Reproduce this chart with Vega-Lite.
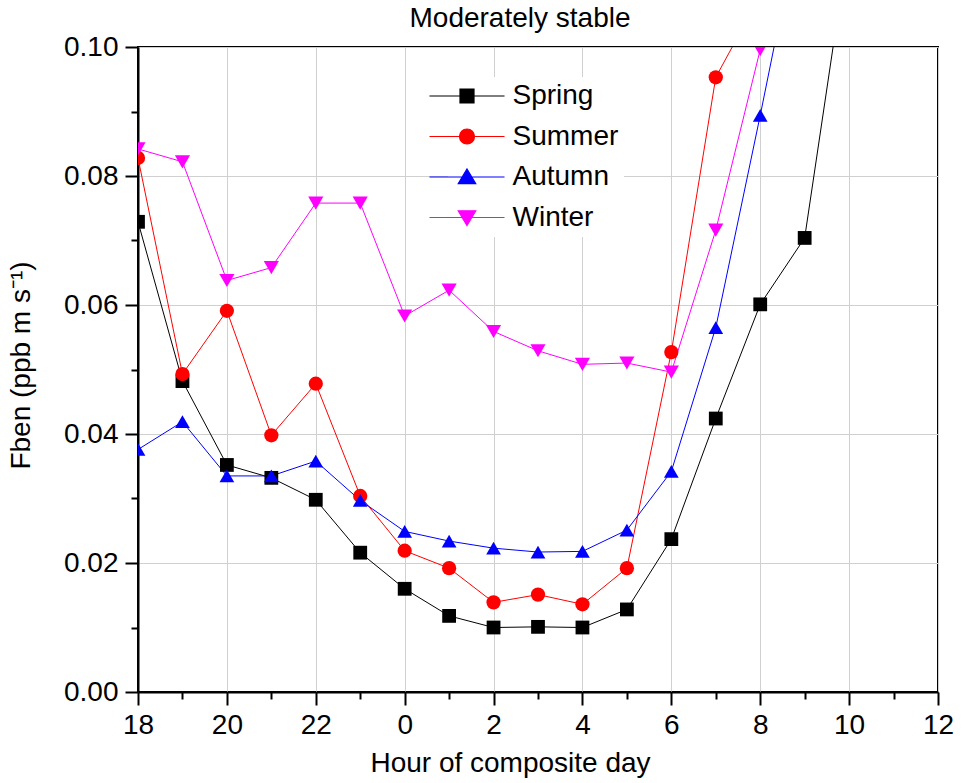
{
  "$schema": "https://vega.github.io/schema/vega-lite/v6.json",
  "width": 800,
  "height": 645,
  "autosize": {"type": "none"},
  "padding": {"left": 138, "top": 47, "right": 25, "bottom": 91},
  "title": {
    "text": "Moderately stable",
    "font": "Liberation Sans",
    "fontSize": 28,
    "fontWeight": "normal",
    "color": "black",
    "baseline": "alphabetic",
    "offset": 4,
    "dx": -18,
    "dy": 26
  },
  "data": {
    "values": [
      {"season": "Spring", "hour": 18, "F": 0.0729},
      {"season": "Spring", "hour": 19, "F": 0.0482},
      {"season": "Spring", "hour": 20, "F": 0.0352},
      {"season": "Spring", "hour": 21, "F": 0.0332},
      {"season": "Spring", "hour": 22, "F": 0.0298},
      {"season": "Spring", "hour": 23, "F": 0.0216},
      {"season": "Spring", "hour": 24, "F": 0.0160},
      {"season": "Spring", "hour": 25, "F": 0.0118},
      {"season": "Spring", "hour": 26, "F": 0.0100},
      {"season": "Spring", "hour": 27, "F": 0.0101},
      {"season": "Spring", "hour": 28, "F": 0.0100},
      {"season": "Spring", "hour": 29, "F": 0.0128},
      {"season": "Spring", "hour": 30, "F": 0.0237},
      {"season": "Spring", "hour": 31, "F": 0.0424},
      {"season": "Spring", "hour": 32, "F": 0.0601},
      {"season": "Spring", "hour": 33, "F": 0.0704},
      {"season": "Spring", "hour": 34, "F": 0.1167},
      {"season": "Summer", "hour": 18, "F": 0.0828},
      {"season": "Summer", "hour": 19, "F": 0.0493},
      {"season": "Summer", "hour": 20, "F": 0.0591},
      {"season": "Summer", "hour": 21, "F": 0.0398},
      {"season": "Summer", "hour": 22, "F": 0.0478},
      {"season": "Summer", "hour": 23, "F": 0.0304},
      {"season": "Summer", "hour": 24, "F": 0.0219},
      {"season": "Summer", "hour": 25, "F": 0.0192},
      {"season": "Summer", "hour": 26, "F": 0.0139},
      {"season": "Summer", "hour": 27, "F": 0.0151},
      {"season": "Summer", "hour": 28, "F": 0.0136},
      {"season": "Summer", "hour": 29, "F": 0.0192},
      {"season": "Summer", "hour": 30, "F": 0.0527},
      {"season": "Summer", "hour": 31, "F": 0.0953},
      {"season": "Summer", "hour": 32, "F": 0.1080},
      {"season": "Autumn", "hour": 18, "F": 0.0376},
      {"season": "Autumn", "hour": 19, "F": 0.0419},
      {"season": "Autumn", "hour": 20, "F": 0.0335},
      {"season": "Autumn", "hour": 21, "F": 0.0335},
      {"season": "Autumn", "hour": 22, "F": 0.0358},
      {"season": "Autumn", "hour": 23, "F": 0.0297},
      {"season": "Autumn", "hour": 24, "F": 0.0249},
      {"season": "Autumn", "hour": 25, "F": 0.0234},
      {"season": "Autumn", "hour": 26, "F": 0.0223},
      {"season": "Autumn", "hour": 27, "F": 0.0217},
      {"season": "Autumn", "hour": 28, "F": 0.0218},
      {"season": "Autumn", "hour": 29, "F": 0.0251},
      {"season": "Autumn", "hour": 30, "F": 0.0342},
      {"season": "Autumn", "hour": 31, "F": 0.0565},
      {"season": "Autumn", "hour": 32, "F": 0.0894},
      {"season": "Autumn", "hour": 33, "F": 0.1234},
      {"season": "Winter", "hour": 18, "F": 0.0842},
      {"season": "Winter", "hour": 19, "F": 0.0822},
      {"season": "Winter", "hour": 20, "F": 0.0638},
      {"season": "Winter", "hour": 21, "F": 0.0658},
      {"season": "Winter", "hour": 22, "F": 0.0758},
      {"season": "Winter", "hour": 23, "F": 0.0758},
      {"season": "Winter", "hour": 24, "F": 0.0583},
      {"season": "Winter", "hour": 25, "F": 0.0623},
      {"season": "Winter", "hour": 26, "F": 0.0559},
      {"season": "Winter", "hour": 27, "F": 0.0529},
      {"season": "Winter", "hour": 28, "F": 0.0508},
      {"season": "Winter", "hour": 29, "F": 0.0510},
      {"season": "Winter", "hour": 30, "F": 0.0496},
      {"season": "Winter", "hour": 31, "F": 0.0716},
      {"season": "Winter", "hour": 32, "F": 0.0996}
    ]
  },
  "encoding": {
    "x": {
      "field": "hour",
      "type": "quantitative",
      "scale": {"domain": [18, 36], "nice": false, "zero": false},
      "axis": {
        "title": "Hour of composite day",
        "values": [18, 19, 20, 21, 22, 23, 24, 25, 26, 27, 28, 29, 30, 31, 32, 33, 34, 35, 36],
        "labelExpr": "datum.value % 2 ? '' : (datum.value >= 24 ? datum.value - 24 : datum.value)",
        "labelOverlap": false,
        "labelFlush": false,
        "labelPadding": 6,
        "tickSize": {"condition": {"test": "datum.value % 2 == 1", "value": 7}, "value": 13},
        "gridOpacity": {"condition": {"test": "datum.value % 2 == 1", "value": 0}, "value": 1},
        "titleX": 372,
        "titleY": 79,
        "titleAlign": "center",
        "titleBaseline": "alphabetic"
      }
    },
    "y": {
      "field": "F",
      "type": "quantitative",
      "scale": {"domain": [0, 0.1], "nice": false},
      "axis": {
        "title": "Fben (ppb m s⁻¹)",
        "values": [0, 0.01, 0.02, 0.03, 0.04, 0.05, 0.06, 0.07, 0.08, 0.09, 0.1],
        "labelExpr": "round(datum.value * 100) % 2 ? '' : format(datum.value, '.2f')",
        "labelOverlap": false,
        "labelFlush": false,
        "labelPadding": 7,
        "tickSize": {"condition": {"test": "round(datum.value * 100) % 2 == 1", "value": 7}, "value": 13},
        "gridOpacity": {"condition": {"test": "round(datum.value * 100) % 2 == 1", "value": 0}, "value": 1},
        "titleAngle": -90,
        "titleX": -109,
        "titleY": 318,
        "titleAlign": "center",
        "titleBaseline": "alphabetic"
      }
    }
  },
  "layer": [
    {
      "mark": {"type": "line", "clip": true, "strokeWidth": 1},
      "encoding": {
        "color": {
          "field": "season",
          "type": "nominal",
          "scale": {"domain": ["Spring", "Summer", "Autumn", "Winter"], "range": ["#000000", "#ff0000", "#0000ff", "#ff00ff"]},
          "legend": null
        }
      }
    },
    {
      "mark": {"type": "point", "filled": true, "clip": true, "opacity": 1},
      "encoding": {
        "color": {
          "field": "season",
          "type": "nominal",
          "scale": {"domain": ["Spring", "Summer", "Autumn", "Winter"], "range": ["#000000", "#ff0000", "#0000ff", "#ff00ff"]},
          "legend": null
        },
        "shape": {
          "field": "season",
          "type": "nominal",
          "scale": {"domain": ["Spring", "Summer", "Autumn", "Winter"], "range": ["square", "circle", "triangle-up", "triangle-down"]},
          "legend": null
        },
        "size": {
          "field": "season",
          "type": "nominal",
          "scale": {"domain": ["Spring", "Summer", "Autumn", "Winter"], "range": [190, 230, 260, 260]},
          "legend": null
        }
      }
    },
    {
      "mark": {"type": "point", "filled": true, "clip": true, "opacity": 0},
      "encoding": {
        "fill": {
          "field": "season",
          "type": "nominal",
          "title": null,
          "scale": {"domain": ["Spring", "Summer", "Autumn", "Winter"], "range": ["#000000", "#ff0000", "#0000ff", "#ff00ff"]}
        },
        "stroke": {
          "field": "season",
          "type": "nominal",
          "title": null,
          "scale": {"domain": ["Spring", "Summer", "Autumn", "Winter"], "range": ["#000000", "#ff0000", "#0000ff", "#ff00ff"]}
        },
        "shape": {
          "field": "season",
          "type": "nominal",
          "title": null,
          "scale": {
            "domain": ["Spring", "Summer", "Autumn", "Winter"],
            "range": [
              "M-5.36,0H5.36M-1,-1H1V1H-1Z",
              "M-5.36,0H5.36M-1.07,0A1.07,1.07 0 1,0 1.07,0A1.07,1.07 0 1,0 -1.07,0Z",
              "M-5.36,0H5.36M0,-1.15L1.25,0.95L-1.25,0.95Z",
              "M-5.36,0H5.36M0,1.15L1.25,-0.95L-1.25,-0.95Z"
            ]
          }
        }
      }
    }
  ],
  "resolve": {"scale": {"shape": "independent", "size": "independent", "fill": "independent", "stroke": "independent"}},
  "config": {
    "font": "Liberation Sans",
    "view": {"stroke": "black", "strokeWidth": 2},
    "axis": {
      "domainColor": "black",
      "domainWidth": 2,
      "tickColor": "black",
      "tickWidth": 2,
      "gridColor": "#d0d0d0",
      "gridWidth": 1,
      "labelFont": "Liberation Sans",
      "labelFontSize": 28,
      "labelColor": "black",
      "titleFont": "Liberation Sans",
      "titleFontSize": 28,
      "titleFontWeight": "normal",
      "titleColor": "black"
    },
    "legend": {
      "orient": "none",
      "legendX": 310,
      "legendY": 30,
      "fillColor": "white",
      "padding": 5,
      "symbolSize": 196,
      "symbolStrokeWidth": 1.2,
      "symbolOpacity": 1,
      "symbolOffset": 0,
      "labelOffset": 31.5,
      "labelFont": "Liberation Sans",
      "labelFontSize": 28,
      "labelColor": "black",
      "rowPadding": 12.5
    }
  }
}
